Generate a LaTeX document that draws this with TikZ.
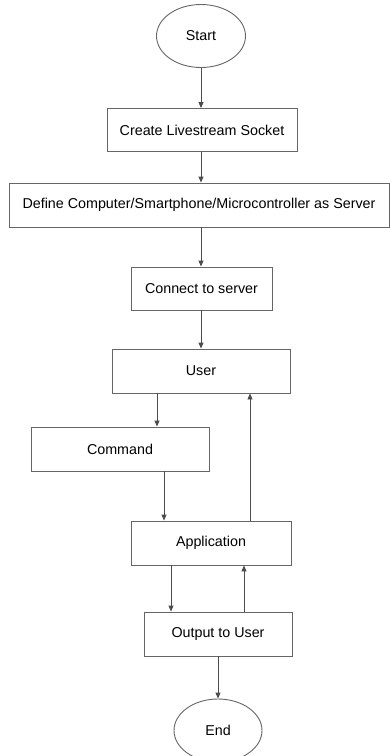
\documentclass[tikz,border=0pt]{standalone}
\usepackage{fontspec}
\setmainfont{Liberation Sans}
\usetikzlibrary{shapes.geometric,arrows.meta}
\begin{document}
\begin{tikzpicture}[x=1pt,y=-1pt,
  box/.style={draw=black!60,line width=0.9pt,fill=white,inner sep=0pt,font=\fontsize{14.3}{16}\selectfont},
  oval/.style={ellipse,draw=black!60,line width=0.9pt,fill=white,inner sep=0pt,font=\fontsize{14.3}{16}\selectfont},
  arr/.style={draw=black!70,line width=0.9pt,-{Triangle[length=6pt,width=5pt]}}]
\fill[white] (0,0) rectangle (390,756);
\useasboundingbox (0,0) rectangle (390,756);
\node[oval,minimum width=89pt,minimum height=63pt] (start) at (201,36) {Start};
\node[box,minimum width=190pt,minimum height=43pt] (create) at (202,130) {Create Livestream Socket};
\node[box,minimum width=380pt,minimum height=44pt] (define) at (199,205) {Define Computer/Smartphone/Microcontroller as Server};
\node[box,minimum width=141pt,minimum height=43pt] (connect) at (201.5,288.5) {Connect to server};
\node[box,minimum width=178pt,minimum height=44pt] (user) at (201,371) {User};
\node[box,minimum width=178pt,minimum height=44pt] (command) at (120,449) {Command};
\node[box,minimum width=160pt,minimum height=44pt] (app) at (211,543) {Application};
\node[box,minimum width=148pt,minimum height=44pt] (output) at (218,634) {Output to User};
\node[oval,minimum width=88pt,minimum height=63pt] (end) at (218,730.5) {End};
\draw[arr] (start.south) -- (start.south |- create.north);
\draw[arr] ([xshift=-1pt]create.south) -- ([xshift=-1pt]create.south |- define.north);
\draw[arr] ([xshift=2pt]define.south) -- ([xshift=2pt]define.south |- connect.north);
\draw[arr] ([xshift=-0.5pt]connect.south) -- ([xshift=-0.5pt]connect.south |- user.north);
\draw[arr] ([xshift=-44pt]user.south) -- ([xshift=-44pt]user.south |- command.north);
\draw[arr] ([xshift=44pt]command.south) -- ([xshift=44pt]command.south |- app.north);
\draw[arr] ([xshift=39pt]app.north) -- ([xshift=39pt]app.north |- user.south);
\draw[arr] ([xshift=-40pt]app.south) -- ([xshift=-40pt]app.south |- output.north);
\draw[arr] ([xshift=33pt]app.south |- output.north) -- ([xshift=33pt]app.south);
\draw[arr] (output.south) -- (end.north);
\end{tikzpicture}
\end{document}
